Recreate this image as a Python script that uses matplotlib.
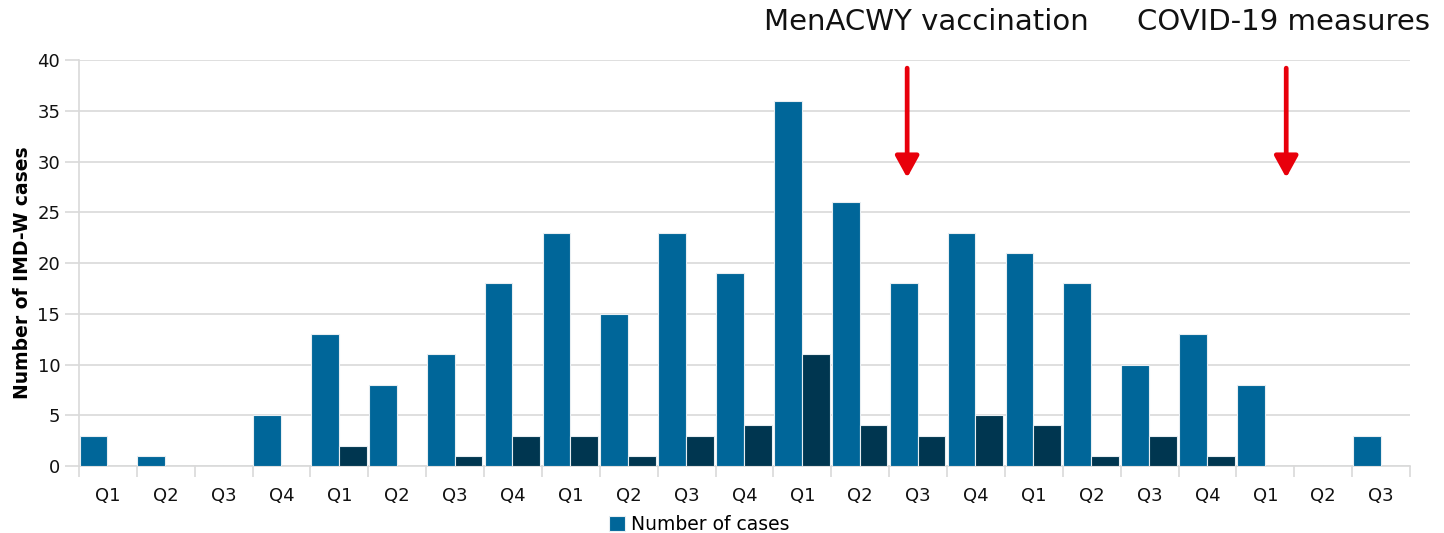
import numpy as np
import matplotlib
matplotlib.use("Agg")
from matplotlib import pyplot as plt

# quarterly IMD-W data
quarters = ["Q1", "Q2", "Q3", "Q4"] * 5 + ["Q1", "Q2", "Q3"]
cases = [3, 1, 0, 5, 13, 8, 11, 18, 23, 15, 23, 19, 36, 26, 18, 23, 21, 18, 10, 13, 8, 0, 3]
dark = [0, 0, 0, 0, 2, 0, 1, 3, 3, 1, 3, 4, 11, 4, 3, 5, 4, 1, 3, 1, 0, 0, 0]
events = ["MenACWY vaccination", "COVID-19 measures"]
event_x = [13.81, 20.36]
event_text_x = [14.15, 20.31]

blue = "#006699"
navy = "#003650"
grid = "#d9d9d9"

fig = plt.figure(figsize=(14.44, 5.33), dpi=100)
ax = fig.add_axes([0.0547, 0.1257, 0.9218, 0.7617])

x = np.arange(len(cases))
ax.bar(x - 0.49, cases, width=0.48, align="edge", color=blue,
       edgecolor="#e8eef2", linewidth=0.8, label="Number of cases", zorder=3)
ax.bar(x - 0.01, dark, width=0.48, align="edge", color=navy,
       edgecolor="#e8eef2", linewidth=0.8, zorder=3)

ax.set_xlim(-0.5, len(cases) - 0.5)
ax.set_ylim(0, 40)
ax.set_yticks(range(0, 41, 5))
ax.set_xticks(x)
ax.set_xticklabels(quarters)
ax.set_xticks(np.arange(len(cases) + 1) - 0.5, minor=True)
ax.tick_params(axis="x", which="major", length=0, pad=15, labelsize=13, colors="#111111")
ax.tick_params(axis="x", which="minor", length=8, color=grid, width=1.2)
ax.tick_params(axis="y", length=10, color=grid, width=1.2, labelsize=13, colors="#111111")
ax.grid(axis="y", color=grid, linewidth=1.2, zorder=0)
for s in ["top", "right"]:
    ax.spines[s].set_visible(False)
for s in ["left", "bottom"]:
    ax.spines[s].set_color(grid)
    ax.spines[s].set_linewidth(1.2)

ax.set_ylabel("Number of IMD-W cases", fontsize=13.5, fontweight="bold")
ax.yaxis.set_label_coords(-0.035, 0.475)

for xe in event_x:
    ax.annotate("", xy=(xe, 28.4), xytext=(xe, 39.2),
                arrowprops=dict(arrowstyle="-|>,head_length=1.0,head_width=0.55",
                                mutation_scale=13, color="#e8000b", lw=3.4,
                                shrinkA=0, shrinkB=0),
                annotation_clip=False, zorder=5)

for label, xt in zip(events, event_text_x):
    ax.text(xt, 43.7, label, ha="center", va="center", fontsize=21, color="#111111")

ax.legend(loc="upper center", bbox_to_anchor=(0.466, -0.08), frameon=False,
          fontsize=13.5, handlelength=0.85, handleheight=0.85, handletextpad=0.3)

fig.savefig("out.png", dpi=100)
